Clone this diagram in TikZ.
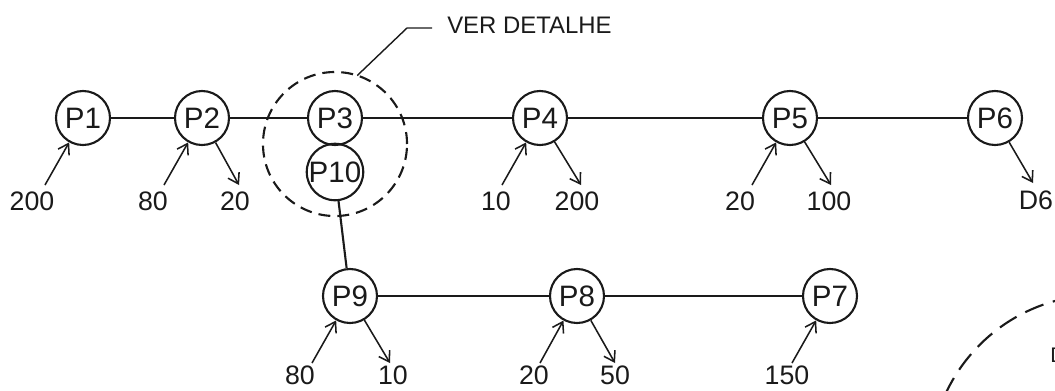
\documentclass[tikz,border=0pt]{standalone}
\usepackage{fontspec}
\setmainfont{Liberation Sans}
\usetikzlibrary{arrows.meta,calc}
\definecolor{ink}{HTML}{1A1A1A}
\tikzset{
  pipe/.style={draw=ink,line width=1.5pt},
  junc/.style={circle,draw=ink,line width=1.5pt,minimum size=1.35cm,inner sep=0pt,text=ink,font=\fontsize{21}{23}\selectfont},
  flow/.style={draw=ink,line width=1.1pt,-{Straight Barb[length=7pt,width=9pt]}},
  qty/.style={text=ink,inner sep=0pt,anchor=base,font=\fontsize{19}{21}\selectfont},
  note/.style={text=ink,inner sep=0pt,anchor=base west,font=\fontsize{17}{19}\selectfont},
  detail/.style={draw=ink,line width=1.5pt,dash pattern=on 8.5pt off 5pt},
  lead/.style={draw=ink,line width=1pt},
}
\begin{document}
\begin{tikzpicture}[x=0.025cm,y=-0.025cm]
\useasboundingbox (0,0) rectangle (1055,390);
% junctions
\node[junc] (p1) at (83,118) {P1};\node[junc] (p2) at (202,118) {P2};\node[junc] (p3) at (335,118) {P3};
\node[junc] (p4) at (540,118) {P4};\node[junc] (p5) at (790,118) {P5};\node[junc] (p6) at (995,118) {P6};
\node[junc] (p10) at (335,172) {P10};
\node[junc] (p9) at (350,296) {P9};\node[junc] (p8) at (577,296) {P8};\node[junc] (p7) at (830,296) {P7};
% pipes
\draw[pipe] (p1)--(p2);\draw[pipe] (p2)--(p3);\draw[pipe] (p3)--(p4);\draw[pipe] (p4)--(p5);\draw[pipe] (p5)--(p6);
\draw[pipe] (p10)--(p9);\draw[pipe] (p9)--(p8);\draw[pipe] (p8)--(p7);
% demands in / out
\coordinate (i1) at ($(p1)+(-38,67)$);\draw[flow] (i1)--(p1);\node[qty] (q1) at ($(i1)+(-13,25)$) {200};
\coordinate (i2) at ($(p2)+(-38,67)$);\draw[flow] (i2)--(p2);\node[qty] (q2) at ($(i2)+(-11,25)$) {80};
\coordinate (o2) at ($(p2)+(37,67)$);\draw[flow] (p2)--(o2);\node[qty] (r2) at ($(o2)+(-4,25)$) {20};
\coordinate (i4) at ($(p4)+(-38,67)$);\draw[flow] (i4)--(p4);\node[qty] (q4) at ($(i4)+(-6,25)$) {10};
\coordinate (o4) at ($(p4)+(41,67)$);\draw[flow] (p4)--(o4);\node[qty] (r4) at ($(o4)+(-4,25)$) {200};
\coordinate (i5) at ($(p5)+(-38,67)$);\draw[flow] (i5)--(p5);\node[qty] (q5) at ($(i5)+(-12,25)$) {20};
\coordinate (o5) at ($(p5)+(41,67)$);\draw[flow] (p5)--(o5);\node[qty] (r5) at ($(o5)+(-2,25)$) {100};
\coordinate (o6) at ($(p6)+(38,65)$);\draw[flow] (p6)--(o6);\node[qty] (r6) at ($(o6)+(3,26)$) {D6};
\coordinate (i9) at ($(p9)+(-38,67)$);\draw[flow] (i9)--(p9);\node[qty] (q9) at ($(i9)+(-12,21)$) {80};
\coordinate (o9) at ($(p9)+(40,67)$);\draw[flow] (p9)--(o9);\node[qty] (r9) at ($(o9)+(3,21)$) {10};
\coordinate (i8) at ($(p8)+(-37,67)$);\draw[flow] (i8)--(p8);\node[qty] (q8) at ($(i8)+(-6,21)$) {20};
\coordinate (o8) at ($(p8)+(38,67)$);\draw[flow] (p8)--(o8);\node[qty] (r8) at ($(o8)+(0,21)$) {50};
\coordinate (i7) at ($(p7)+(-38,67)$);\draw[flow] (i7)--(p7);\node[qty] (q7) at ($(i7)+(-5,21)$) {150};
% detail callouts
\coordinate (det) at (335,144);\draw[detail] (det) circle [radius=1.8cm];
\node[note] (ver) at (447,33) {VER DETALHE};\coordinate (tag) at (432,28);
\draw[lead] ($(det)+(72:1.8cm)$)--(407,28)--(tag);
\coordinate (det2) at (1100,465);\draw[detail,dash pattern=on 14pt off 7pt] (det2) circle [radius=4.25cm];
\node[note,font=\fontsize{15}{17}\selectfont] (dd) at (1050,362) {D};
\end{tikzpicture}
\end{document}
